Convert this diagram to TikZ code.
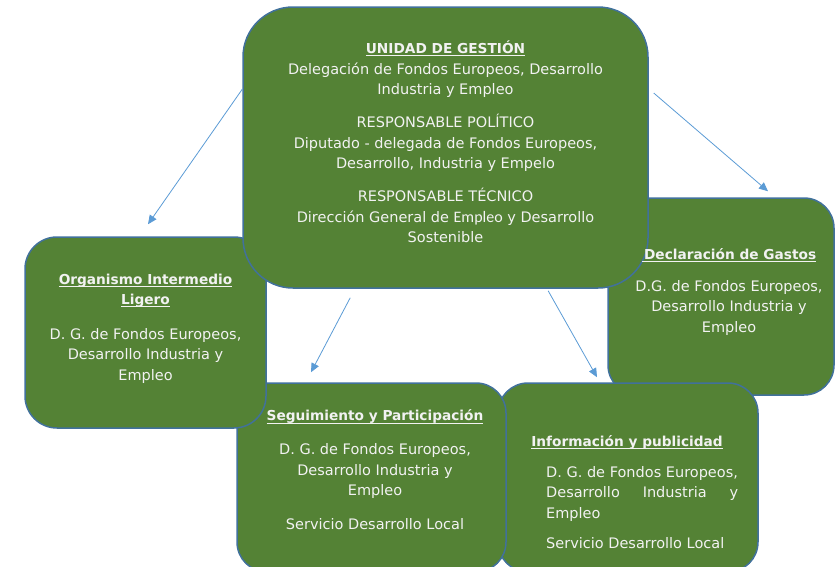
\documentclass[tikz,border=0pt]{standalone}
\usepackage{fontspec}
\setmainfont{DejaVu Sans}
\newfontfamily\calfont{Carlito}
\usetikzlibrary{arrows.meta}
\definecolor{verde}{HTML}{548235}
\definecolor{borde}{HTML}{41719C}
\definecolor{azulflecha}{HTML}{5B9BD5}
\definecolor{blanco}{HTML}{F2F2F2}
\tikzset{
  caja/.style={draw=borde,fill=verde,line width=1.5pt,inner sep=0pt},
  texto/.style={text=blanco,inner sep=0pt,font=\fontsize{14.5}{20.5}\selectfont},
  flecha/.style={draw=azulflecha,line width=.8pt,-{Triangle[length=9pt,width=8pt]}}
}
% titulo en negrita con el subrayado pegado a la linea base
\newcommand\titulo[1]{{\bfseries\fontsize{13.7}{20.5}\selectfont
  \setbox0\hbox{#1}\rlap{\rule[-2.6pt]{\wd0}{.9pt}}\box0}}

\begin{document}
\begin{tikzpicture}[x=1pt,y=-1pt]
\useasboundingbox (0,0) rectangle (835,566);
% Las cajas, de la de mas abajo a la de mas arriba.
\node[caja,rounded corners=30pt,minimum width=226pt,minimum height=197pt] (dg) at (721,296.5) {};
\node[caja,rounded corners=30pt,minimum width=260pt,minimum height=189pt] (ip) at (628,477.5) {};
\node[caja,rounded corners=30pt,minimum width=269pt,minimum height=189pt] (sp) at (371.5,477.5) {};
\node[caja,rounded corners=32pt,minimum width=241pt,minimum height=191pt] (oil) at (145.5,332.5) {};
\node[caja,rounded corners=50pt,minimum width=405pt,minimum height=281pt] (ug) at (445.5,147.5) {};
% Unidad de gestion.
\node[texto,align=center] (ug-txt) at (445.5,142) {\titulo{UNIDAD DE GESTIÓN}\\
  Delegación de Fondos Europeos, Desarrollo\\ Industria y Empleo\\[12.5pt]
  RESPONSABLE POLÍTICO\\ Diputado - delegada de Fondos Europeos,\\
  Desarrollo, Industria y Empelo\\[12.5pt]
  RESPONSABLE TÉCNICO\\ Dirección General de {\calfont\fontsize{16}{20.5}\selectfont Empleo} y Desarrollo\\ Sostenible};
% Las otras cuatro.
\node[texto,align=center] (oil-txt) at (145.5,328.5) {\titulo{Organismo Intermedio}\\
  \titulo{Ligero}\\[14pt]
  D. G. de Fondos Europeos,\\ Desarrollo Industria y\\ Empleo};
\node[texto,align=center] (dg-txt) at (729,292) {\titulo{\,Declaración de Gastos}\\[11pt]
  D.G. de Fondos Europeos,\\ Desarrollo Industria y\\ Empleo};
\node[texto,align=center] (sp-txt) at (375,470) {\titulo{Seguimiento y Participación}\\[13.5pt]
  D. G. de Fondos Europeos,\\ Desarrollo Industria y\\ Empleo\\[13.5pt]
  Servicio Desarrollo Local};
\node[texto] (ip-tit) at (627,442) {\titulo{Información y publicidad}};
\node[texto,align=left,anchor=north west] (ip-txt) at (546,466) {D. G. de Fondos Europeos,\\
  \makebox[192pt][s]{Desarrollo Industria y}\\ Empleo\\[10pt]
  Servicio Desarrollo Local};
% Flechas desde la unidad de gestion.
\draw[flecha] (ug.164.7) -- ([xshift=2.5pt,yshift=12pt]oil.north);
\draw[flecha] ([xshift=5pt]ug.15.1) -- ([xshift=47pt,yshift=6pt]dg.north);
\draw[flecha] ([yshift=-9pt]ug.236.6) -- ([xshift=-60.5pt,yshift=10pt]sp.north);
\draw[flecha] ([yshift=-2pt]ug.306.1) -- ([xshift=-31pt,yshift=5pt]ip.north);
\end{tikzpicture}
\end{document}
